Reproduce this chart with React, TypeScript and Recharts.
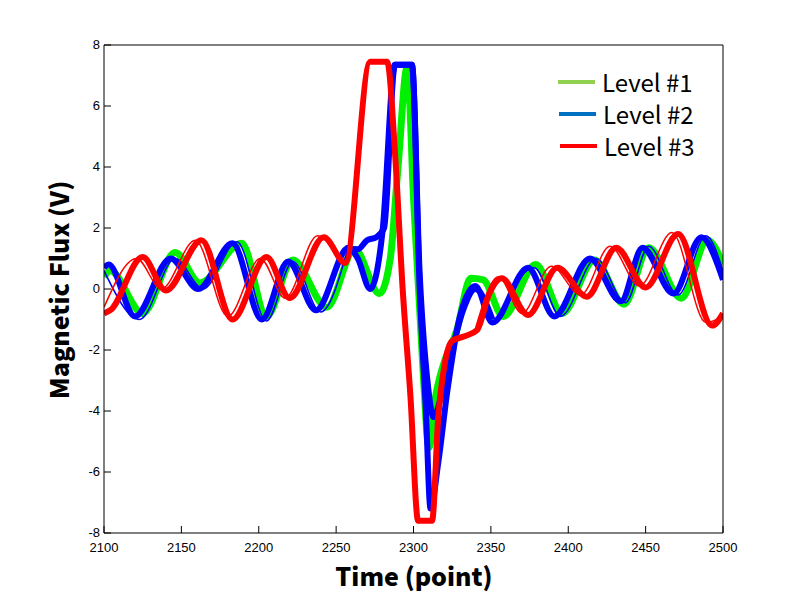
import { LineChart, Line, XAxis, YAxis } from "recharts";

// time axis (point) and flux values (V)
const level1Time = [2100, 2104, 2125, 2146, 2162, 2189, 2205, 2222, 2244, 2262, 2278, 2285, 2290, 2296, 2300, 2306, 2310, 2314, 2318, 2328, 2337, 2345, 2358, 2379, 2396, 2417, 2436, 2452, 2473, 2490, 2500];
const level1Flux = [0.4, 0.6, -0.8, 1.2, 0.2, 1.5, -0.9, 0.95, -0.6, 1.3, -0.15, 1.0, 4.0, 7.3, 3.0, -2.5, -5.2, -3.6, -2.7, -1.35, 0.35, 0.3, -0.9, 0.8, -0.8, 0.95, -0.5, 1.35, -0.3, 1.6, 0.8];

const level2Time = [2100, 2103, 2120, 2143, 2161, 2183, 2202, 2219, 2237, 2258, 2264, 2272, 2280, 2288, 2299, 2304, 2308, 2311, 2316, 2322, 2330, 2340, 2351, 2374, 2391, 2414, 2434, 2448, 2468, 2486, 2500];
const level2Flux = [0.7, 0.8, -0.9, 1.0, 0.0, 1.5, -1.0, 0.9, -0.7, 1.35, 1.0, 0.0, 1.9, 7.35, 7.35, 0.0, -4.0, -7.2, -5.7, -3.3, -0.9, 0.1, -1.1, 0.7, -0.9, 1.0, -0.4, 1.35, -0.15, 1.7, 0.3];

// second group of level #2 traces (shallow trough)
const level2bTime = [2256, 2264, 2270, 2276, 2281, 2288, 2299, 2304, 2309, 2313, 2318, 2324, 2332, 2340, 2351];
const level2bFlux = [1.35, 1.3, 1.6, 1.7, 2.0, 7.35, 7.35, 0.5, -3.0, -4.2, -3.5, -2.2, -0.7, 0.0, -1.0];

// thin scattered level #2 traces
const level2cTimeA = [2100, 2123, 2146, 2164, 2186, 2205, 2222, 2240, 2258];
const level2cFluxA = [0.6, -1.0, 1.0, 0.0, 1.55, -1.05, 0.9, -0.75, 1.4];
const level2cTimeB = [2354, 2378, 2395, 2418, 2437, 2452, 2471, 2489, 2500];
const level2cFluxB = [-1.0, 0.7, -0.9, 1.0, -0.45, 1.4, -0.2, 1.75, 0.6];

const level3Time = [2100, 2104, 2125, 2140, 2163, 2183, 2205, 2220, 2242, 2256, 2272, 2283, 2288, 2293, 2298, 2303, 2312, 2316, 2320, 2325, 2333, 2341, 2349, 2357, 2374, 2393, 2412, 2431, 2450, 2471, 2493, 2500];
const level3Flux = [-0.8, -0.7, 1.05, -0.05, 1.6, -1.0, 1.05, -0.3, 1.7, 0.85, 7.45, 7.45, 4.5, 0.0, -3.5, -7.6, -7.6, -4.2, -2.5, -1.7, -1.55, -1.35, -0.15, 0.35, -0.85, 0.7, -0.25, 1.35, 0.05, 1.8, -1.2, -0.8];

// thin scattered level #3 traces
const level3cTimeA = [2100, 2121, 2137, 2159, 2180, 2201, 2217, 2238, 2253];
const level3cFluxA = [-0.6, 1.0, 0.0, 1.6, -0.9, 1.0, -0.3, 1.75, 0.9];
const level3cTimeB = [2340, 2355, 2370, 2389, 2408, 2427, 2446, 2467, 2489, 2500];
const level3cFluxB = [-1.3, 0.4, -0.8, 0.75, -0.2, 1.4, 0.1, 1.85, -1.1, -0.9];

const xTicks = [2100, 2150, 2200, 2250, 2300, 2350, 2400, 2450, 2500];
const yTicks = [-8, -6, -4, -2, 0, 2, 4, 6, 8];

const legendItems = [
  { label: "Level #1", color: "#92D050" },
  { label: "Level #2", color: "#0070C0" },
  { label: "Level #3", color: "#FF0000" },
];

const zip = (t: number[], v: number[]) => t.map((x, i) => ({ t: x, v: v[i] }));

const tickFont = "'Liberation Sans', Arial, sans-serif";
const titleFont = "'Noto Sans CJK KR', 'Noto Sans', sans-serif";

function BottomTick({ x, y, payload }: any) {
  return (
    <g>
      <line x1={x} y1={y} x2={x} y2={y - 7} stroke="#000" />
      <text x={x} y={y + 19} textAnchor="middle" fontSize={13} fontFamily={tickFont} fill="#000">
        {payload.value}
      </text>
    </g>
  );
}

function LeftTick({ x, y, payload }: any) {
  return (
    <g>
      <line x1={x} y1={y} x2={x + 7} y2={y} stroke="#000" />
      <text x={x - 4} y={y + 4} textAnchor="end" fontSize={13} fontFamily={tickFont} fill="#000">
        {payload.value}
      </text>
    </g>
  );
}

function TopTick({ x, y }: any) {
  return <line x1={x} y1={y} x2={x} y2={y + 7} stroke="#000" />;
}

function RightTick({ x, y }: any) {
  return <line x1={x} y1={y} x2={x - 7} y2={y} stroke="#000" />;
}

export default function App() {
  const lineProps = {
    type: "monotone" as const,
    dataKey: "v",
    dot: false,
    isAnimationActive: false,
    strokeLinejoin: "round" as const,
  };
  return (
    <div style={{ position: "relative", width: 784, height: 590, background: "#fff" }}>
      <LineChart width={784} height={590} margin={{ top: 36, right: 68, bottom: 35, left: 56 }}>
        <XAxis
          dataKey="t"
          type="number"
          domain={[2100, 2500]}
          ticks={xTicks}
          allowDataOverflow
          height={30}
          tickSize={0}
          tickMargin={0}
          tick={<BottomTick />}
          axisLine={{ stroke: "#000" }}
        />
        <XAxis
          xAxisId="top"
          orientation="top"
          dataKey="t"
          type="number"
          domain={[2100, 2500]}
          ticks={xTicks}
          height={1}
          tickSize={0}
          tickMargin={0}
          tick={<TopTick />}
          axisLine={{ stroke: "#000" }}
        />
        <YAxis
          type="number"
          domain={[-8, 8]}
          ticks={yTicks}
          allowDataOverflow
          width={40}
          tickSize={0}
          tickMargin={0}
          tick={<LeftTick />}
          axisLine={{ stroke: "#000" }}
        />
        <YAxis
          yAxisId="right"
          orientation="right"
          type="number"
          domain={[-8, 8]}
          ticks={yTicks}
          width={1}
          tickSize={0}
          tickMargin={0}
          tick={<RightTick />}
          axisLine={{ stroke: "#000" }}
        />
        <Line {...lineProps} data={zip(level1Time, level1Flux)} stroke="#00F000" strokeWidth={7} />
        <Line {...lineProps} data={zip(level2cTimeA, level2cFluxA)} stroke="#0000FF" strokeWidth={1.5} />
        <Line {...lineProps} data={zip(level2cTimeB, level2cFluxB)} stroke="#0000FF" strokeWidth={1.5} />
        <Line {...lineProps} data={zip(level2bTime, level2bFlux)} stroke="#0000FF" strokeWidth={6} />
        <Line {...lineProps} data={zip(level2Time, level2Flux)} stroke="#0000FF" strokeWidth={6} />
        <Line {...lineProps} data={zip(level3cTimeA, level3cFluxA)} stroke="#FF0000" strokeWidth={1.5} />
        <Line {...lineProps} data={zip(level3cTimeB, level3cFluxB)} stroke="#FF0000" strokeWidth={1.5} />
        <Line {...lineProps} data={zip(level3Time, level3Flux)} stroke="#FF0000" strokeWidth={6} />
      </LineChart>

      {/* legend */}
      <div style={{ position: "absolute", left: 550, top: 59 }}>
        {legendItems.map((item, i) => (
          <div key={item.label} style={{ position: "absolute", top: i * 32, left: i, display: "flex", alignItems: "center", whiteSpace: "nowrap" }}>
            <div style={{ width: 37, height: 4, background: item.color, marginRight: 7 }} />
            <span style={{ fontFamily: titleFont, fontSize: 24, color: "#000", lineHeight: "30px" }}>{item.label}</span>
          </div>
        ))}
      </div>

      {/* axis titles */}
      <div
        style={{
          position: "absolute",
          left: 406,
          top: 567,
          transform: "translate(-50%, -50%)",
          fontFamily: titleFont,
          fontWeight: 900,
          fontSize: 25,
          whiteSpace: "nowrap",
        }}
      >
        Time (point)
      </div>
      <div
        style={{
          position: "absolute",
          left: 50,
          top: 282,
          transform: "translate(-50%, -50%) rotate(-90deg)",
          fontFamily: titleFont,
          fontWeight: 900,
          fontSize: 25,
          whiteSpace: "nowrap",
        }}
      >
        Magnetic Flux (V)
      </div>
    </div>
  );
}
